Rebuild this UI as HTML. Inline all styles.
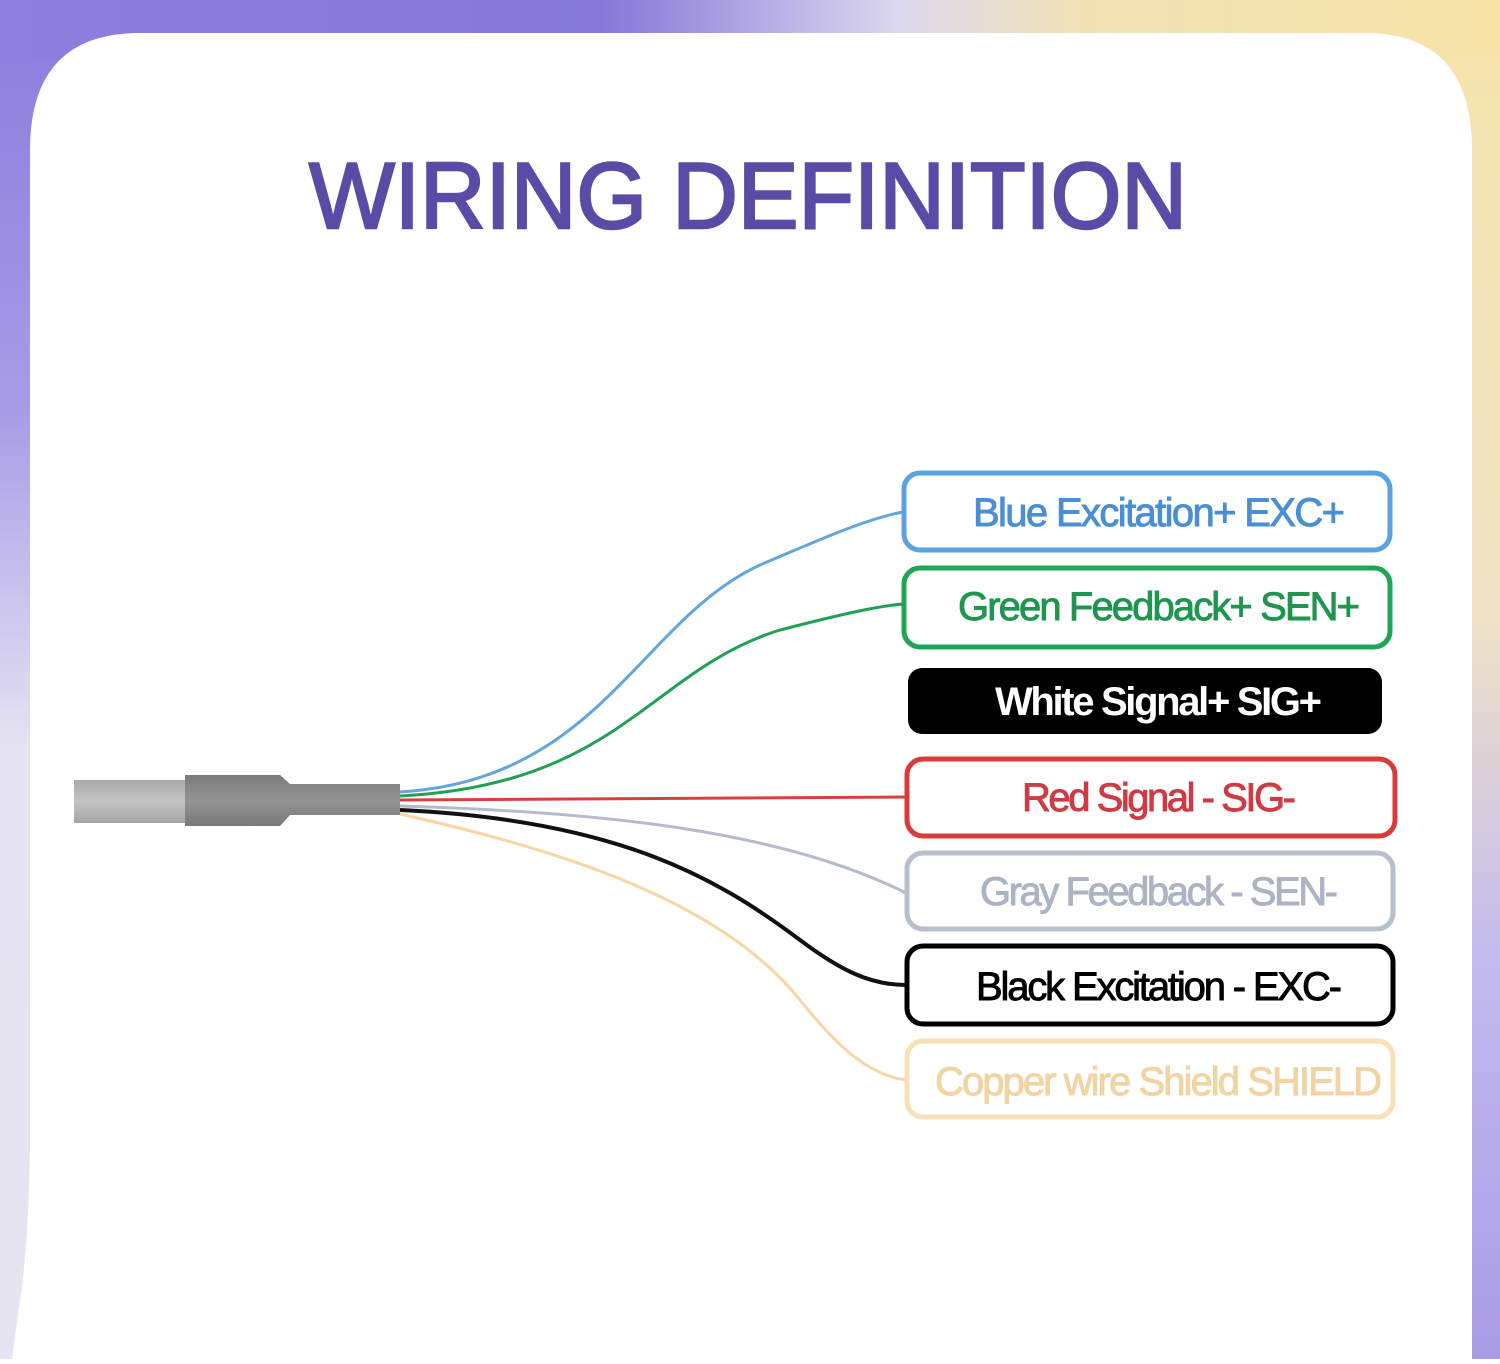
<!DOCTYPE html>
<html><head><meta charset="utf-8"><style>html,body{margin:0;padding:0;}body{width:1500px;height:1359px;overflow:hidden;}</style></head>
<body>
<svg width="1500" height="1359" viewBox="0 0 1500 1359" xmlns="http://www.w3.org/2000/svg">
<defs>
<linearGradient id="top" x1="0" y1="0" x2="1" y2="0">
<stop offset="0" stop-color="#8f7fe0"/><stop offset="0.4" stop-color="#8677d8"/><stop offset="0.6" stop-color="#dcd8ee"/><stop offset="0.72" stop-color="#f1e2b6"/><stop offset="1" stop-color="#f7e3a8"/>
</linearGradient>
<linearGradient id="left" x1="0" y1="0" x2="0" y2="1">
<stop offset="0" stop-color="#8a7cdc"/><stop offset="0.3" stop-color="#a89be6"/><stop offset="0.55" stop-color="#e6e3f2"/><stop offset="1" stop-color="#e6e4f0"/>
</linearGradient>
<linearGradient id="right" x1="0" y1="0" x2="0" y2="1">
<stop offset="0" stop-color="#f6e3ab"/><stop offset="0.45" stop-color="#f1e3c6"/><stop offset="0.7" stop-color="#c4bbef"/><stop offset="1" stop-color="#a99ce6"/>
</linearGradient>
<linearGradient id="cab1" x1="0" y1="0" x2="0" y2="1"><stop offset="0" stop-color="#a9a9a9"/><stop offset="0.5" stop-color="#c4c4c4"/><stop offset="1" stop-color="#a4a4a4"/></linearGradient>
<linearGradient id="cab2" x1="0" y1="0" x2="0" y2="1"><stop offset="0" stop-color="#7a7a7a"/><stop offset="0.5" stop-color="#949494"/><stop offset="1" stop-color="#787878"/></linearGradient>
</defs>
<rect x="0" y="0" width="750" height="1359" fill="url(#left)"/>
<rect x="750" y="0" width="750" height="1359" fill="url(#right)"/>
<rect x="0" y="0" width="1500" height="60" fill="url(#top)"/>
<path d="M12 1359 L20 1300 Q28 1250 30 1150 L30 150 Q30 33 140 33 L1365 33 Q1472 33 1472 150 L1472 1359 Z" fill="#fff"/>
<text x="748" y="228" text-anchor="middle" font-family="Liberation Sans, sans-serif" font-size="94" fill="#5b4ba6" stroke="#5b4ba6" stroke-width="2.5" textLength="878" lengthAdjust="spacingAndGlyphs">WIRING DEFINITION</text>

<g fill="none" stroke-width="3">
<path d="M400 792 C600 780 640 620 760 565 C830 535 870 518 903 512" stroke="#62a6dc"/>
<path d="M400 796 C620 785 650 670 780 630 C850 612 880 606 903 604" stroke="#22a055"/>
<path d="M400 800 L906 797" stroke="#d84040"/>
<path d="M400 806 C600 812 780 830 906 893" stroke="#b4bcca"/>
<path d="M400 810 C620 820 720 880 800 940 C840 970 870 985 906 985" stroke="#111" stroke-width="4"/>
<path d="M400 814 C560 850 720 900 800 1000 C840 1050 870 1075 906 1080" stroke="#f6d7a4"/>
</g>
<rect x="74" y="780" width="115" height="43" fill="url(#cab1)"/>
<path d="M185 775 L280 775 L290 784 L400 784 L400 815 L290 815 L280 826 L185 826 Z" fill="url(#cab2)"/>

<g font-family="Liberation Sans, sans-serif" font-size="40" lengthAdjust="spacingAndGlyphs" stroke-width="0.9">
<rect x="904" y="473" width="486" height="77" rx="16" fill="#fff" stroke="#5aa2e0" stroke-width="5"/>
<text x="973" y="526" textLength="372" fill="#4a8ed6" stroke="#4a8ed6">Blue Excitation+ EXC+</text>
<rect x="904" y="568" width="486" height="79" rx="16" fill="#fff" stroke="#1fa558" stroke-width="5"/>
<text x="958" y="620" textLength="402" fill="#1f9650" stroke="#1f9650">Green Feedback+ SEN+</text>
<rect x="908" y="668" width="474" height="66" rx="14" fill="#000"/>
<text x="995" y="715" textLength="327" fill="#fff" font-weight="bold">White Signal+ SIG+</text>
<rect x="907" y="759" width="488" height="77" rx="16" fill="#fff" stroke="#db3a3a" stroke-width="5"/>
<text x="1022" y="811" textLength="274" fill="#cf3b45" stroke="#cf3b45">Red Signal - SIG-</text>
<rect x="907" y="853" width="486" height="76" rx="16" fill="#fff" stroke="#b8bfcc" stroke-width="5"/>
<text x="980" y="905" textLength="358" fill="#acb3c2" stroke="#acb3c2">Gray Feedback - SEN-</text>
<rect x="907" y="946" width="486" height="78" rx="16" fill="#fff" stroke="#000" stroke-width="5"/>
<text x="976" y="1000" textLength="366" fill="#000" stroke="#000">Black Excitation - EXC-</text>
<rect x="907" y="1041" width="486" height="76" rx="16" fill="#fff" stroke="#f8e0b8" stroke-width="5"/>
<text x="935" y="1095" textLength="447" fill="#f2d3a2" stroke="#f2d3a2">Copper wire Shield SHIELD</text>
</g>
</svg>
</body></html>
